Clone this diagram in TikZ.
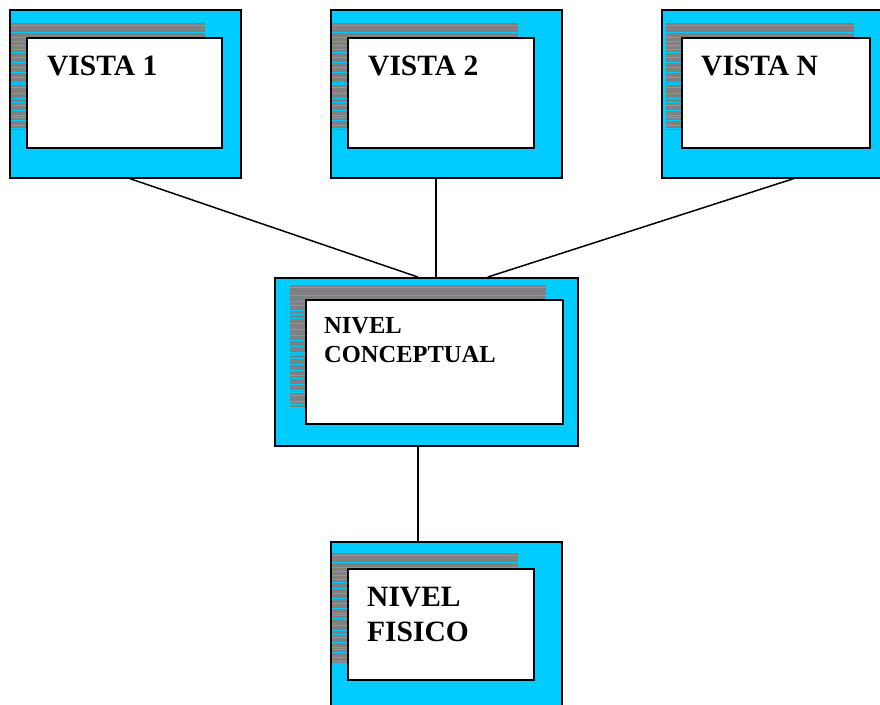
\documentclass[tikz,border=0pt]{standalone}
\usepackage{fontspec}
\setmainfont{Liberation Serif}
\definecolor{screenblue}{RGB}{0,204,255}
\definecolor{stripegray}{RGB}{128,128,128}
\begin{document}
\begin{tikzpicture}[x=1pt, y=-1pt,
  screen/.style={draw=black, fill=screenblue, line width=1.6pt, anchor=north west, inner sep=0pt},
  panel/.style={draw=black, fill=white, line width=1.8pt, anchor=north west, inner sep=0pt},
  title/.style={font=\bfseries\fontsize{29.5}{35}\selectfont, anchor=base west, align=left, inner sep=0pt},
  link/.style={draw=black, line width=1.5pt}]
\useasboundingbox (0,0) rectangle (880,704);
\clip (0,0) rectangle (880,704);
% outer screens
\node[screen, minimum width=231pt, minimum height=168pt] (v1) at (9,9) {};
\node[screen, minimum width=231pt, minimum height=168pt] (v2) at (330,9) {};
\node[screen, minimum width=231pt, minimum height=168pt] (vn) at (661,9) {};
\node[screen, minimum width=303pt, minimum height=168pt] (nc) at (274,277) {};
\node[screen, minimum width=231pt, minimum height=168pt] (nf) at (330,541) {};
% striped shadows
\foreach \sx/\sy/\sw/\sh in {11/23/194/107, 332/23/186/107, 666/23/188/107, 290/285/256/122, 332/553/186/110} {
  \fill[stripegray] (\sx,\sy) rectangle ({\sx+\sw},{\sy+\sh});
  \foreach \d in {2.5,9,14,18,22,26,29,34,39,44,49,54,59,61,64,70,75,79,82,87,92,94,97,102,105}
    \draw[screenblue, line width=0.8pt] (\sx,{\sy+\d*\sh/107}) -- ({\sx+\sw},{\sy+\d*\sh/107});
}
% white panels
\node[panel, minimum width=195pt, minimum height=110pt] (p1) at (26,37) {};
\node[panel, minimum width=186pt, minimum height=110pt] (p2) at (347,37) {};
\node[panel, minimum width=188pt, minimum height=110pt] (pn) at (681,37) {};
\node[panel, minimum width=257pt, minimum height=124pt] (pc) at (305,299) {};
\node[panel, minimum width=186pt, minimum height=111pt] (pf) at (347,568) {};
% labels
\node[title] (t1) at (47,75) {VISTA 1};
\node[title] (t2) at (368,75) {VISTA 2};
\node[title] (tn) at (701,75) {VISTA N};
\node[title, font=\bfseries\fontsize{24.5}{29}\selectfont] (tc) at (324,362) {NIVEL\\CONCEPTUAL};
\node[title] (tf) at (367,641) {NIVEL\\FISICO};
% connections
\draw[link] ([xshift=4.5pt]v1.south) -- ([xshift=-8.5pt]nc.north);
\draw[link] ([xshift=-10.5pt]v2.south) -- ([xshift=9.5pt]nc.north);
\draw[link] ([xshift=16.5pt]vn.south) -- ([xshift=61.5pt]nc.north);
\draw[link] ([xshift=-8.5pt]nc.south) -- ([xshift=-28.5pt]nf.north);
\end{tikzpicture}
\end{document}
